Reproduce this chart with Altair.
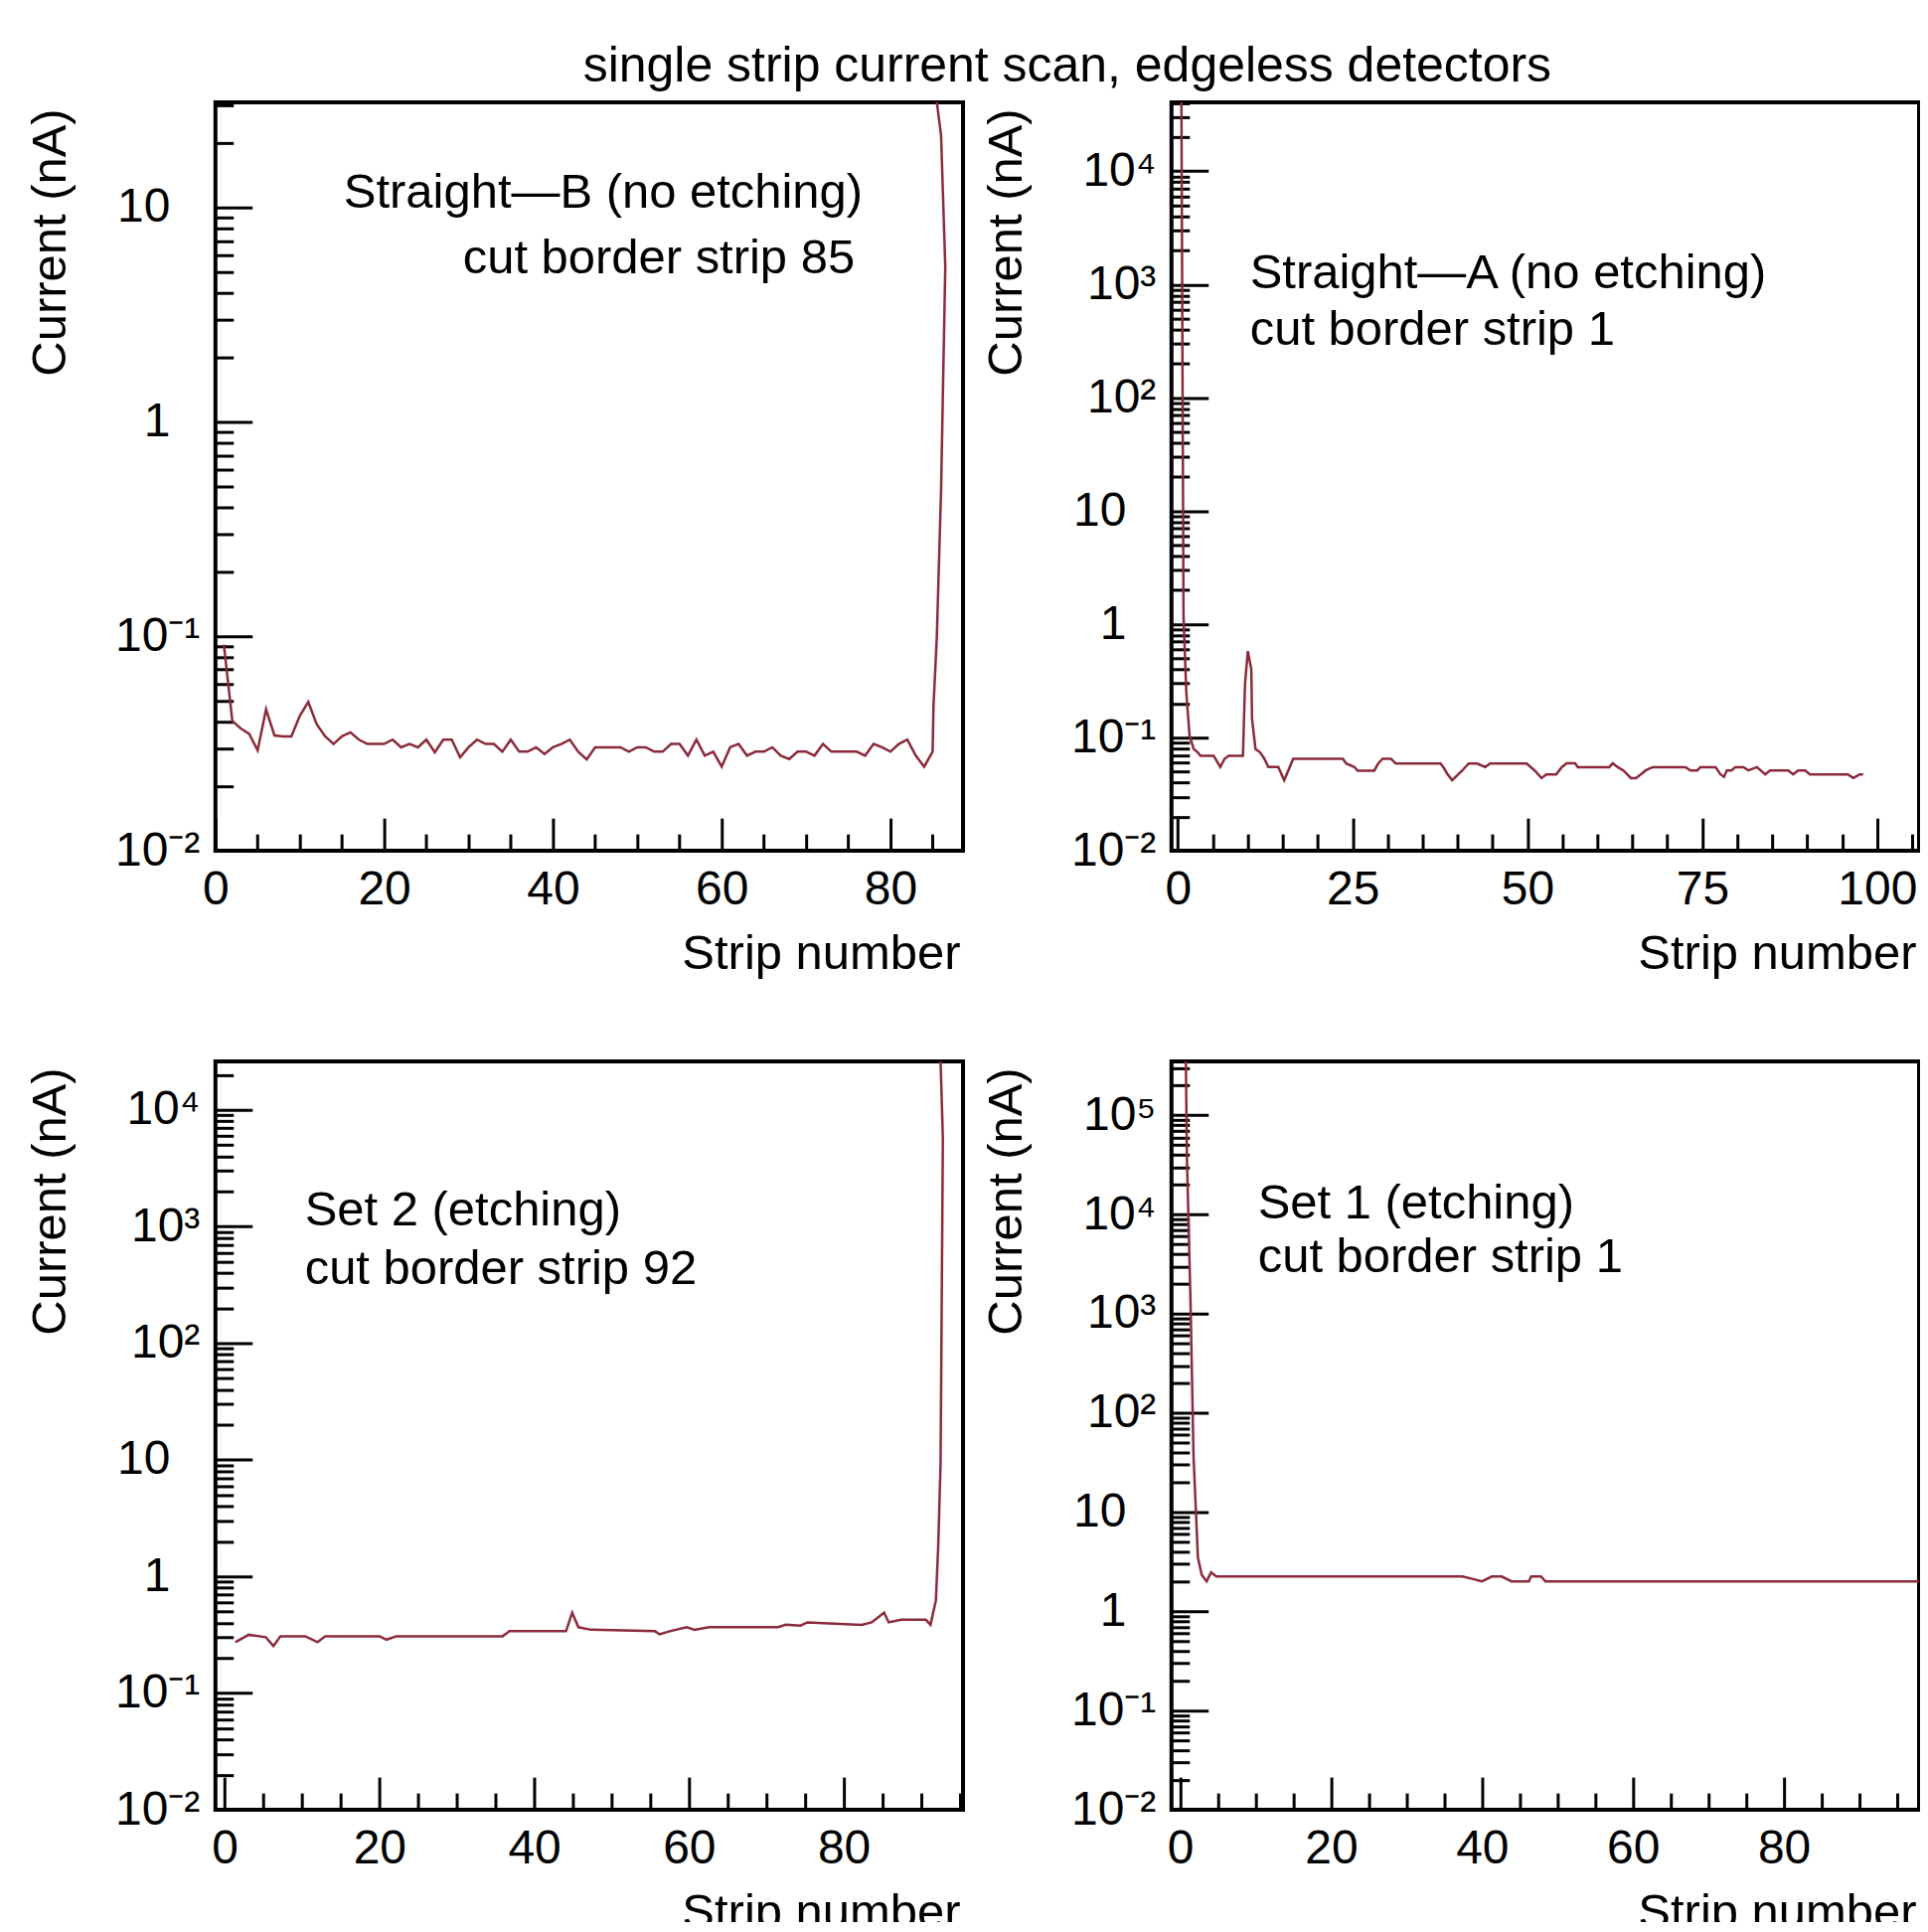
import altair as alt
import pandas as pd

FONT = "Liberation Sans"
LINE_COLOR = "#8a2a3a"
W, H = 753, 754
FS = 48
FS_T = 49

TITLE = "single strip current scan, edgeless detectors"
X_TITLE = "Strip number"
Y_TITLE = "Current (nA)"
EXP_LABELS = ["10⁻²", "10⁻¹", "1", "10", "10²", "10³", "10⁴", "10⁵"]

# ---------------- Panel 1 : Straight-B (no etching) ----------------
p1_x = list(range(1, 86)) + [85.1, 85.5, 86.0, 86.5, 86.0, 85.5]
p1_y = [0.0916, 0.0404, 0.0372, 0.0351, 0.0294, 0.0457, 0.0345, 0.0342, 0.0342, 0.0426,
        0.0495, 0.039, 0.0342, 0.0315, 0.0342, 0.0357, 0.033, 0.0315, 0.0315, 0.0315,
        0.033, 0.0304, 0.0315, 0.0304, 0.033, 0.0288, 0.033, 0.033, 0.0273, 0.0304,
        0.033, 0.0315, 0.0315, 0.029, 0.033, 0.029, 0.029, 0.0304, 0.0283, 0.0304,
        0.0315, 0.033, 0.029, 0.0267,
        0.0304, 0.0304, 0.0304, 0.0304, 0.029, 0.0304, 0.0304, 0.029, 0.029, 0.0315,
        0.0315, 0.0278, 0.033, 0.0278, 0.029, 0.0247, 0.0304, 0.0315, 0.0278, 0.029,
        0.029, 0.0304, 0.0278, 0.0268, 0.029, 0.029, 0.0278, 0.0315, 0.029, 0.029,
        0.029, 0.029, 0.0278, 0.0315, 0.0304, 0.029, 0.0315, 0.033, 0.0278, 0.0247,
        0.029,
        0.047, 0.1, 0.48, 5.3, 21.7, 45.0]
p1_text = ["Straight—B (no etching)", "cut border strip 85"]

# ---------------- Panel 2 : Straight-A (no etching) ----------------
p2_x = [0.5, 0.8, 1.2, 1.66, 2.27, 2.84, 3.22, 5.11, 6.06, 6.68, 7.25, 8.9, 9.3, 9.6, 10.0,
        10.5, 10.6, 11.1, 11.75, 12.36, 12.93, 14.35, 15.2, 16.0, 16.48, 23.59, 24.06, 25.24,
        25.71, 28.08, 28.65, 29.27, 30.45, 31.16, 37.56, 37.94, 38.51, 39.22, 40.64, 41.58,
        42.77, 43.95, 44.66, 49.87, 51.05, 52.0, 52.7, 54.1, 54.9, 55.6, 56.8, 57.2, 61.7,
        62.2, 62.9, 63.7, 64.8, 65.5, 66.2, 66.9, 67.9, 72.6, 73.3, 74.3, 74.7, 76.9, 77.6,
        78.1, 78.5, 79.2, 79.7, 80.9, 81.6, 82.8, 84.0, 84.7, 87.3, 88.0, 88.7, 89.7, 90.4,
        95.8, 96.6, 97.5, 98.0]
p2_y = [3e5, 1.17, 0.25, 0.104, 0.079, 0.074, 0.069, 0.069, 0.055, 0.065, 0.069, 0.069, 0.069,
        0.30, 0.58, 0.40, 0.146, 0.079, 0.074, 0.065, 0.055, 0.055, 0.042, 0.055, 0.065, 0.065,
        0.059, 0.055, 0.051, 0.051, 0.059, 0.065, 0.065, 0.059, 0.059, 0.055, 0.048, 0.042,
        0.051, 0.059, 0.059, 0.055, 0.059, 0.059, 0.051, 0.0439, 0.0473, 0.0473, 0.0548,
        0.0594, 0.0594, 0.0548, 0.0548, 0.0594, 0.0548, 0.0513, 0.0439, 0.0439, 0.0473,
        0.0513, 0.0548, 0.0548, 0.0513, 0.0513, 0.0548, 0.0548, 0.0473, 0.045, 0.0513,
        0.0513, 0.0548, 0.0548, 0.0513, 0.0548, 0.0473, 0.0513, 0.0513, 0.0473, 0.0513,
        0.0513, 0.0473, 0.0473, 0.0439, 0.0473, 0.0473]
p2_text = ["Straight—A (no etching)", "cut border strip 1"]

# ---------------- Panel 3 : Set 2 (etching) ----------------
p3_x = [1.38, 3.1, 5.3, 6.3, 7.2, 10.4, 12.0, 13.0, 20.0, 20.9, 22.2, 35.9, 36.8, 44.1, 44.9,
        45.7, 47.3, 55.6, 56.2, 57.5, 59.7, 60.7, 62.6, 71.5, 72.5, 74.4, 75.3, 82.3, 83.6,
        85.2, 85.8, 87.4, 90.6, 91.2, 91.9, 92.2, 92.5, 92.8, 92.5]
p3_y = [0.274, 0.317, 0.302, 0.254, 0.308, 0.308, 0.274, 0.308, 0.308, 0.288, 0.308, 0.308,
        0.34, 0.34, 0.49, 0.368, 0.35, 0.34, 0.32, 0.34, 0.368, 0.35, 0.368, 0.368, 0.386,
        0.38, 0.405, 0.386, 0.405, 0.49, 0.405, 0.426, 0.426, 0.386, 0.627, 1.84, 9.1,
        5700.0, 1e5]
p3_text = ["Set 2 (etching)", "cut border strip 92"]

# ---------------- Panel 4 : Set 1 (etching) ----------------
p4_x = [0.75, 0.9, 1.38, 1.77, 2.35, 2.86, 3.5, 4.1, 4.8, 37.4, 38.7, 40.0, 41.3, 42.6, 43.9,
        46.2, 46.5, 47.8, 48.4, 98.2]
p4_y = [5e5, 3.6e4, 1225.0, 36.8, 3.49, 2.33, 2.01, 2.47, 2.25, 2.25, 2.13, 2.01, 2.25, 2.25,
        2.01, 2.01, 2.25, 2.25, 2.01, 2.01]
p4_text = ["Set 1 (etching)", "cut border strip 1"]


def make_panel(xs, ys, xdom, ydom, xmajor, texts, text_pos, text_align):
    df = pd.DataFrame({"strip": xs, "current": ys, "k": list(range(len(xs)))})
    xscale = alt.Scale(domain=xdom, nice=False, zero=False)
    yscale = alt.Scale(type="log", domain=ydom, nice=False, clamp=True)

    x_all = [v for v in range(0, 200, 5) if xdom[0] <= v <= xdom[1]]
    x_lab = [v for v in x_all if v % xmajor == 0]
    y_all = [m * 10.0 ** e for e in range(-2, 7) for m in range(1, 10)
             if ydom[0] * 0.999 <= m * 10.0 ** e <= ydom[1]]
    y_lab = [10.0 ** e for e in range(-2, 7) if 10.0 ** e <= ydom[1]]

    label_expr = "[" + ",".join("'%s'" % s for s in EXP_LABELS) + "][round(log(datum.value)/LN10)+2]"

    lab = alt.Chart(df).mark_line(color=LINE_COLOR, strokeWidth=2.5, clip=True).encode(
        x=alt.X("strip:Q", scale=xscale, axis=alt.Axis(
            orient="bottom", values=x_lab, ticks=False, domain=False, grid=False,
            labelFont=FONT, labelFontSize=FS, labelColor="black", labelPadding=15,
            labelFlush=False, labelOverlap=False,
            title=X_TITLE, titleFont=FONT, titleFontSize=FS_T, titleFontWeight="normal",
            titleColor="black", titleX=750, titleY=80, titleAlign="right",
            titleBaseline="top")),
        y=alt.Y("current:Q", scale=yscale, axis=alt.Axis(
            orient="left", values=y_lab, ticks=False, domain=False, grid=False,
            labelExpr=label_expr, labelFont=FONT, labelFontSize=FS, labelColor="black",
            labelPadding={"condition": {"test": "datum.value == 1 || datum.value == 10",
                                        "value": 46}, "value": 16},
            labelFlush=False, labelOverlap=False,
            title=Y_TITLE, titleFont=FONT, titleFontSize=FS_T, titleFontWeight="normal",
            titleColor="black", titleAngle=270, titleAlign="right",
            titleBaseline="alphabetic", titleX=-151, titleY=6)),
        order=alt.Order("k:Q"),
    )

    tk = alt.Chart(df).mark_line(opacity=0, clip=True).encode(
        x=alt.X("strip:Q", scale=xscale, axis=alt.Axis(
            orient="top", offset=-H, values=x_all, labels=False, domain=False, grid=False,
            ticks=True, tickColor="black", tickWidth=3,
            tickSize={"condition": {"test": "datum.value %% %d == 0" % xmajor, "value": 33},
                      "value": 17},
            title=None)),
        y=alt.Y("current:Q", scale=yscale, axis=alt.Axis(
            orient="right", offset=-W, values=y_all, labels=False, domain=False, grid=False,
            ticks=True, tickColor="black", tickWidth=3,
            tickSize={"condition": {
                "test": "abs(log(datum.value)/LN10 - round(log(datum.value)/LN10)) < 0.001",
                "value": 37}, "value": 18},
            title=None)),
        order=alt.Order("k:Q"),
    )

    layers = [lab, tk]
    for t, (px, py) in zip(texts, text_pos):
        layers.append(
            alt.Chart(pd.DataFrame({"t": [t]})).mark_text(
                align=text_align, baseline="alphabetic", font=FONT, fontSize=FS_T,
                color="black").encode(x=alt.value(px), y=alt.value(py), text="t:N")
        )
    return alt.layer(*layers).resolve_axis(x="independent", y="independent").properties(
        width=W, height=H)


p1 = make_panel(p1_x, p1_y, [0, 88.6], [0.01, 31.0], 20, p1_text,
                [(652, 106), (644, 172)], "right")
p2 = make_panel(p2_x, p2_y, [-0.92, 106.0], [0.01, 40600.0], 25, p2_text,
                [(79, 187), (79, 244)], "left")
p3 = make_panel(p3_x, p3_y, [-1.2, 95.4], [0.01, 26100.0], 20, p3_text,
                [(90, 165), (90, 224)], "left")
p4 = make_panel(p4_x, p4_y, [-1.15, 97.9], [0.01, 350000.0], 20, p4_text,
                [(87, 158), (87, 212)], "left")

chart = alt.concat(
    p1, p2, p3, p4, columns=2,
    spacing={"row": 212, "column": 210},
    bounds="flush",
    title=alt.TitleParams(TITLE, font=FONT, fontSize=50, fontWeight="normal",
                          color="black", anchor="start", align="center", dx=858,
                          frame="group", offset=8.5),
).properties(
    padding={"left": 17, "top": 33, "right": -1, "bottom": -19},
    background="white",
).configure_view(stroke="black", strokeWidth=4)

chart.save("out.html", embed_options={"renderer": "svg", "actions": False})
